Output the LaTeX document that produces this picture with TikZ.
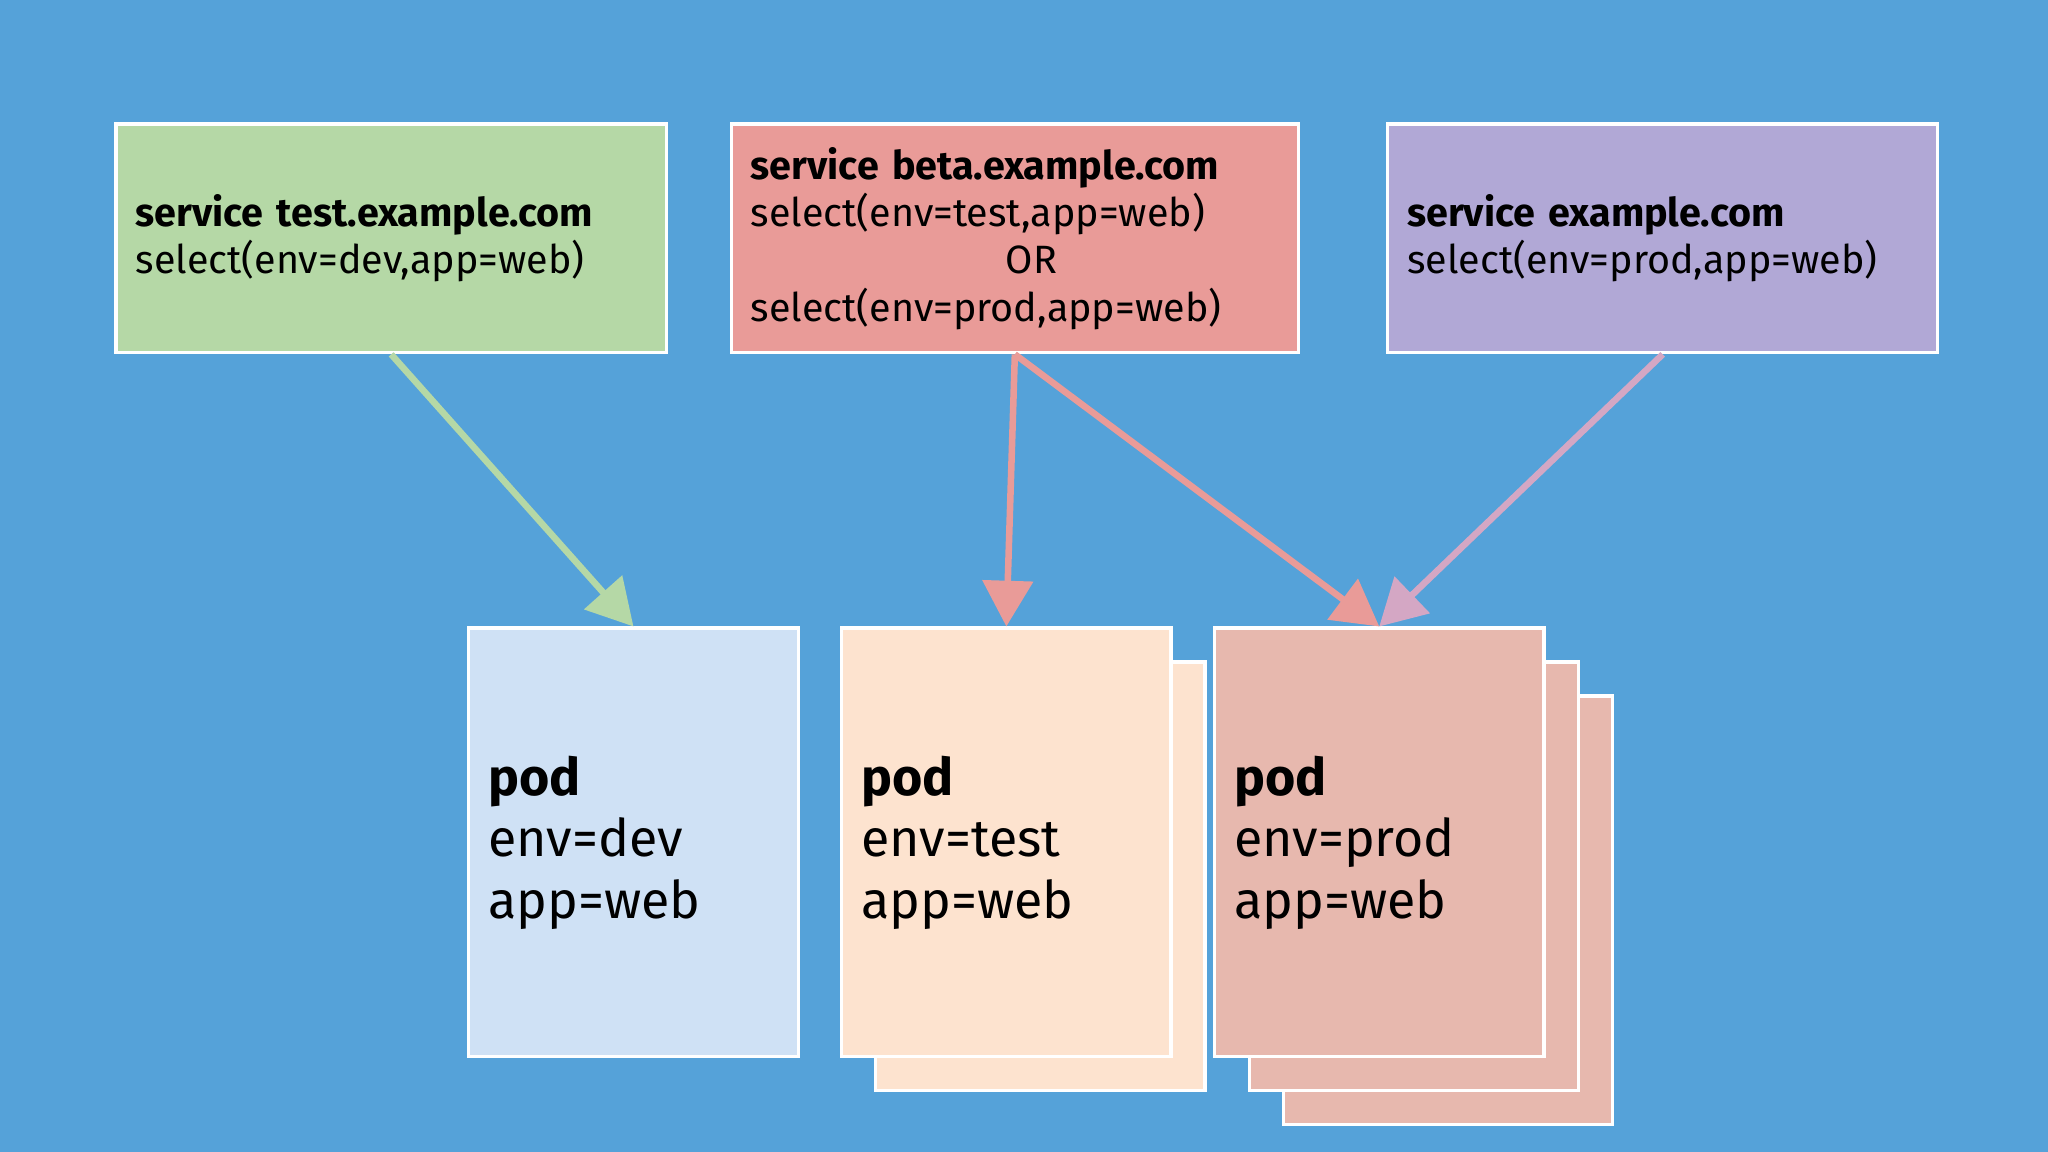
\documentclass[tikz,border=0pt]{standalone}
\usepackage{fontspec}
\setmainfont{Fira Sans}
\usetikzlibrary{arrows.meta}
\definecolor{bg}{HTML}{55A2D9}
\definecolor{cgreen}{HTML}{B5D8A6}
\definecolor{cred}{HTML}{E99B98}
\definecolor{cpurple}{HTML}{B1A8D6}
\definecolor{cpink}{HTML}{D4A7C4}
\definecolor{cblue}{HTML}{CFE1F5}
\definecolor{corange}{HTML}{FDE3CF}
\definecolor{crose}{HTML}{E7B8AE}
\tikzset{
 svc/.style={draw=white, line width=0.025cm, minimum width=4.21cm, minimum height=1.75cm, text width=3.91cm, align=left, font=\fontsize{8.6}{10.3}\selectfont, inner xsep=0.15cm},
 pod/.style={draw=white, line width=0.025cm, minimum width=2.52cm, minimum height=3.28cm, text width=2.22cm, align=left, font=\fontsize{11.3}{13.4}\selectfont, inner xsep=0.15cm},
 arr/.style={line width=0.05cm, -{Triangle[width=0.38cm,length=0.35cm]}}
}
\begin{document}
\begin{tikzpicture}[x=0.01cm,y=-0.01cm]
\fill[bg] (0,0) rectangle (1568,882);
\useasboundingbox (0,0) rectangle (1568,882);
\node[svc, fill=cgreen] (g) at (299.5,182.5) {\textbf{service test.example.com}\\select(env=dev,app=web)};
\node[svc, fill=cred, minimum width=4.34cm, text width=4.04cm] (r) at (777,182.5) {\textbf{service beta.example.com}\\select(env=test,app=web)\\\hspace*{1.95cm}OR\\select(env=prod,app=web)};
\node[svc, fill=cpurple] (pu) at (1273,182.5) {\textbf{service example.com}\\select(env=prod,app=web)};
% pods
\node[pod, fill=cblue] (p1) at (485,645) {\textbf{pod}\\env=dev\\app=web};
\node[pod, fill=corange] (p2b) at (796.5,671) {};
\node[pod, fill=corange] (p2) at (770.5,645) {\textbf{pod}\\env=test\\app=web};
\node[pod, fill=crose] (p3c) at (1108.5,697) {};
\node[pod, fill=crose] (p3b) at (1082.5,671) {};
\node[pod, fill=crose] (p3) at (1056,645) {\textbf{pod}\\env=prod\\app=web};
\draw[arr, cgreen] (g.south) -- (p1.north);
\draw[arr, cred] (r.south) -- (p2.north);
\draw[arr, cred] (r.south) -- (p3.north);
\draw[arr, cpink] (pu.south) -- (p3.north);
\end{tikzpicture}
\end{document}
